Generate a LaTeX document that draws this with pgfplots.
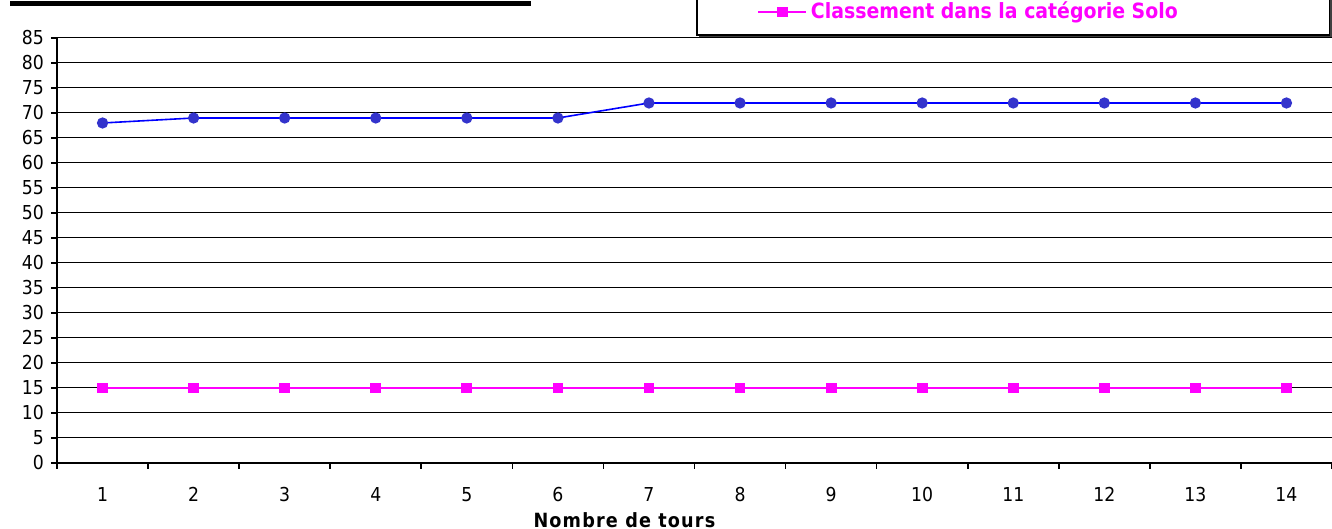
\documentclass[border=0pt]{standalone}
\usepackage{fontspec}
\setmainfont{DejaVu Sans Condensed}
\usepackage{pgfplots}
\pgfplotsset{compat=1.18}
\definecolor{blueline}{RGB}{0,0,255}
\definecolor{bluemark}{RGB}{51,51,204}
\definecolor{magline}{RGB}{255,0,255}
\begin{document}
\begin{tikzpicture}[x=1pt,y=1pt]
% decorative frames (title box edge and legend box, cut by the picture)
\fill[black] (5,261.3) rectangle (265.5,263.8);
\fill[black!75] (349.5,245.5) rectangle (666,268);
\draw[black, line width=0.8pt, fill=white] (348.5,247) rectangle (664.8,268);
\begin{axis}[
  at={(28.5pt,33pt)}, anchor=south west,
  scale only axis, width=637.5pt, height=212.5pt,
  xmin=0.5, xmax=14.5, ymin=0, ymax=85,
  axis lines*=left,
  axis line style={line width=1pt, black},
  ytick={0,5,...,85},
  xtick={1,...,14},
  minor xtick={0.5,1.5,...,14.5},
  tick align=outside,
  major tick length=3pt,
  minor tick length=3pt,
  x tick style={draw=none},
  minor x tick style={draw=black, line width=0.8pt},
  y tick style={black, line width=0.6pt},
  ymajorgrids,
  major grid style={black, line width=0.5pt},
  tick label style={font=\fontsize{9.6}{11}\selectfont},
  /pgf/number format/assume math mode=true,
  xticklabel style={yshift=-5.5pt},
  yticklabel style={xshift=0pt},
  xlabel={\textbf{\addfontfeature{LetterSpace=6}Nombre de tours}},
  xlabel style={at={(axis description cs:0.4455,-0.134)}, anchor=center, font=\fontsize{9.8}{11}\selectfont},
  legend style={at={(axis description cs:0.549,1.061)}, anchor=west, draw=none, fill=none,
     inner sep=0pt, font=\bfseries\fontsize{10.5}{12}\selectfont, text=magline,
     /tikz/every even column/.append style={column sep=0pt}},
  legend image code/.code={\draw[mark repeat=2,mark phase=2] plot coordinates {(0pt,0pt)(12pt,0pt)(24pt,0pt)};},
  clip=false,
]
\addplot[blueline, line width=0.8pt, mark=*, mark size=2.4pt, mark options={fill=bluemark, draw=bluemark}, forget plot]
  coordinates {(1,68)(2,69)(3,69)(4,69)(5,69)(6,69)(7,72)(8,72)(9,72)(10,72)(11,72)(12,72)(13,72)(14,72)};
\addplot[magline, line width=0.8pt, mark=square*, mark size=2.3pt, mark options={fill=magline, draw=magline}]
  coordinates {(1,15)(2,15)(3,15)(4,15)(5,15)(6,15)(7,15)(8,15)(9,15)(10,15)(11,15)(12,15)(13,15)(14,15)};
\addlegendentry{Classement dans la catégorie Solo}
\end{axis}
\pgfresetboundingbox
\useasboundingbox (0,0) rectangle (666,264.5);
\end{tikzpicture}
\end{document}
